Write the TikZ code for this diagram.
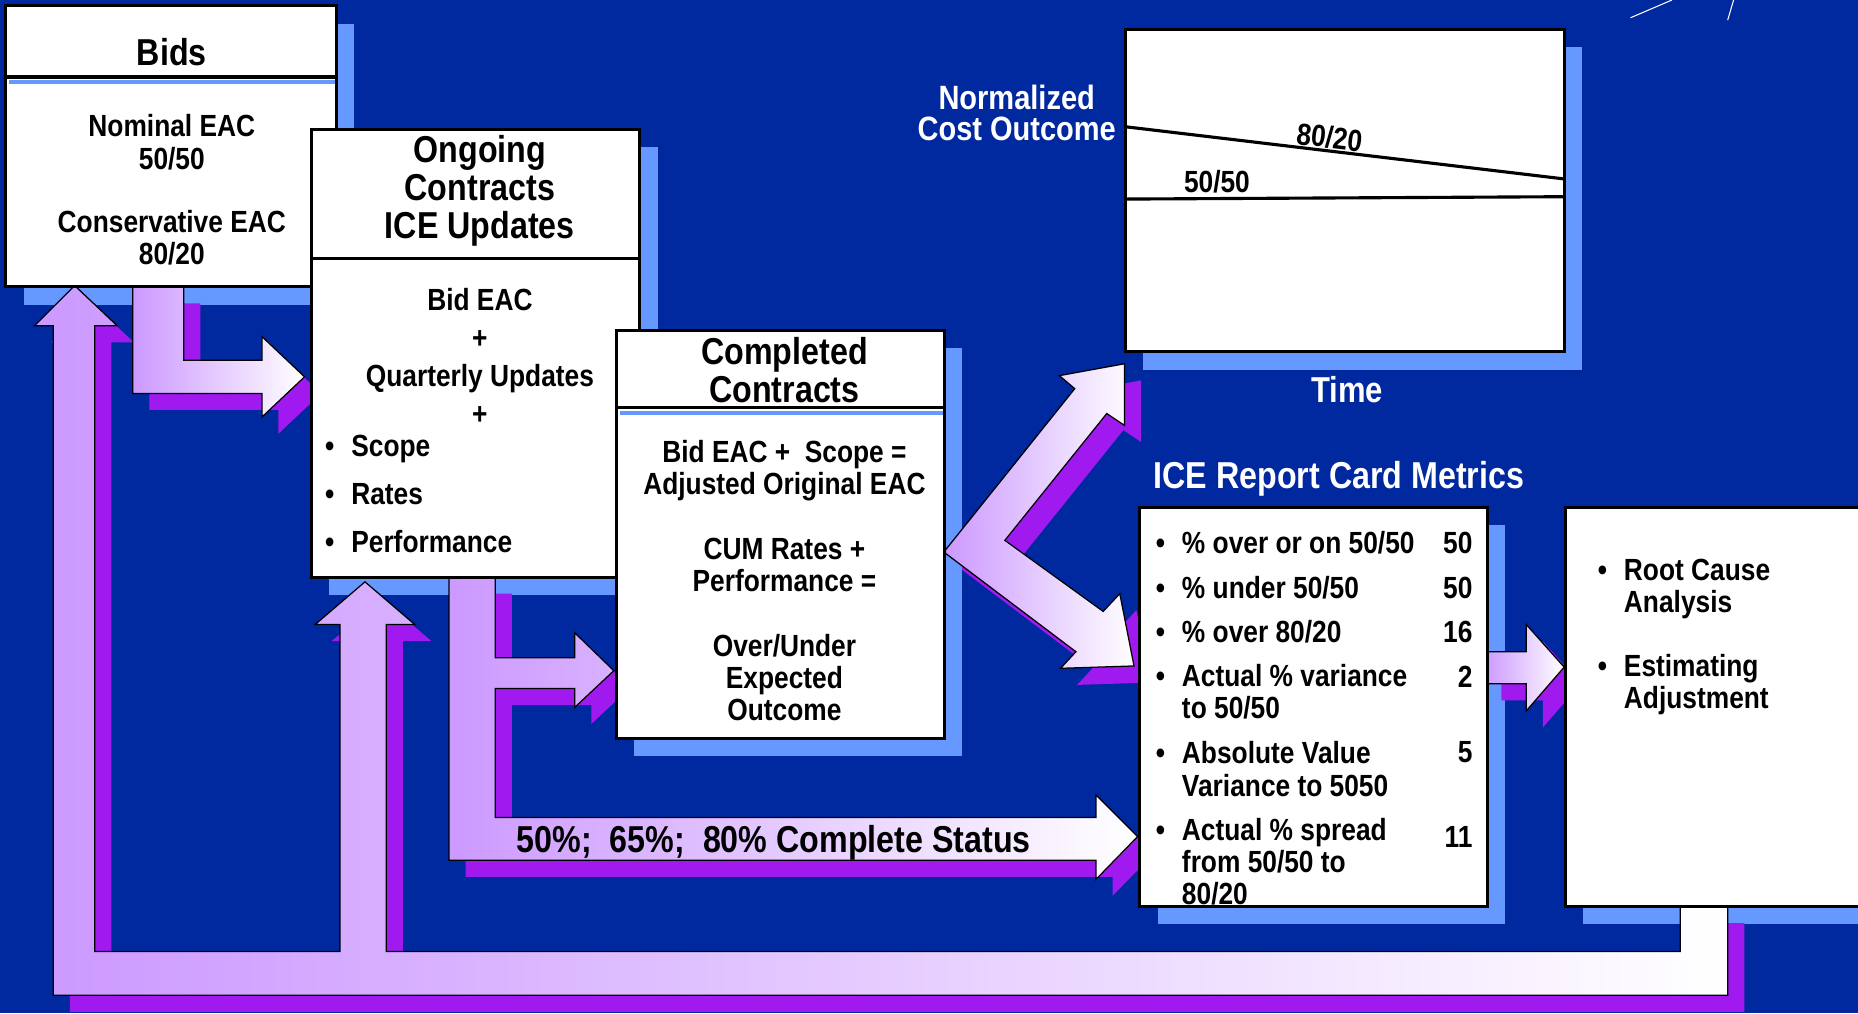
\documentclass[tikz,border=0pt]{standalone}
\usepackage{fontspec}
\setmainfont{Liberation Sans}[FakeStretch=0.86]
\usepackage{tikz}
\usetikzlibrary{positioning}
\definecolor{Navy}{HTML}{00299F}
\definecolor{ShadowBlue}{HTML}{6699FF}
\definecolor{Violet}{HTML}{A01AF0}
\definecolor{Lilac}{HTML}{CC99FF}
\newcommand{\bodysize}{\fontsize{14.7}{15.4}\selectfont\bfseries}
\newcommand{\widesize}{\fontsize{14.7}{18.2}\selectfont\bfseries}
\newcommand{\listsize}{\fontsize{14.7}{23}\selectfont\bfseries}
\newcommand{\titlesize}{\fontsize{18}{18.2}\selectfont\bfseries}
\newcommand{\axissize}{\fontsize{16.2}{14.8}\selectfont\bfseries}
\newcommand{\itemdot}{\makebox[12.6pt][l]{\textbullet}}
\newcommand{\bulgap}{\hspace*{12.6pt}}
% block arrow outlines (pixel grid, y down)
\newcommand{\loopoutline}{(1418,765) -- (1458,765) -- (1458,840) -- (45,840) -- (45,275) -- (29,275) -- (63,241) -- (99,275) -- (80,275) -- (80,803) -- (287,803) -- (287,527) -- (266,527) -- (308,491) -- (350,527) -- (326,527) -- (326,803) -- (1418,803) -- cycle}
\newcommand{\bidsoutline}{(112,242) -- (155,242) -- (155,304) -- (221,304) -- (221,284) -- (257,318) -- (221,352) -- (221,332) -- (112,332) -- cycle}
\newcommand{\statusoutline}{(379,487) -- (418,487) -- (418,555) -- (485,555) -- (485,534) -- (518,566) -- (485,597) -- (485,581) -- (418,581) -- (418,690) -- (925,690) -- (925,671) -- (960,706) -- (925,742) -- (925,726) -- (379,726) -- cycle}
\newcommand{\forkoutline}{(798,464) -- (907,328) -- (894,317) -- (949,307) -- (949,359) -- (934,349) -- (848,456) -- (931,516) -- (945,501) -- (957,562) -- (895,564) -- (908,550) -- (798,467) -- cycle}
\newcommand{\rootoutline}{(1253,550) -- (1288,550) -- (1288,527) -- (1320,563) -- (1288,600) -- (1288,577) -- (1253,577) -- cycle}
\tikzset{
  boxshadow/.style={fill=ShadowBlue},
  panel/.style={draw=black, fill=white, line width=1.5pt},
  blueline/.style={draw=ShadowBlue, line width=2pt},
  arrowshadow/.style={fill=Violet, shift={(14,14)}},
  flowarrow/.style={draw=black, line width=0.6pt, left color=Lilac, right color=white},
  curve/.style={draw=black, line width=1.5pt},
  bodytext/.style={text=black, font=\bodysize, align=center, inner sep=0pt},
  heading/.style={text=black, font=\titlesize, align=center, inner sep=0pt},
  listitem/.style={bodytext, align=left, anchor=west},
  whitetext/.style={text=white, font=\titlesize, align=center, inner sep=0pt},
}

\begin{document}
\begin{tikzpicture}[x=0.02cm, y=-0.02cm]
  \useasboundingbox (0,0) rectangle (1568,855);
  \fill[Navy] (0,0) rectangle (1568,855);

  % Box shadows
  \fill[boxshadow] (20,20) rectangle (299,257);
  \fill[boxshadow] (278,124) rectangle (555,502);
  \fill[boxshadow] (535,294) rectangle (812,638);
  \fill[boxshadow] (965,40) rectangle (1335,312);
  \fill[boxshadow] (977,443) rectangle (1270,780);
  \fill[boxshadow] (1336,443) rectangle (1590,780);

  % Block arrows
  \fill[arrowshadow] \loopoutline;
  \draw[flowarrow] \loopoutline;
  \fill[arrowshadow] \bidsoutline;
  \draw[flowarrow] \bidsoutline;
  \fill[arrowshadow] \statusoutline;
  \draw[flowarrow] \statusoutline;
  \fill[arrowshadow] \forkoutline;
  \draw[flowarrow] \forkoutline;
  \fill[arrowshadow] \rootoutline;
  \draw[flowarrow] \rootoutline;

  % Bids
  \draw[panel] (5,5) rectangle (284,242);
  \draw[panel] (5,5) rectangle (284,65);
  \draw[blueline] (8,69.5) -- (283,69.5);
  \node[heading] (bidsTitle) at (145,44) {Bids};
  \node[bodytext] (bidsNominal) at (145,120) {Nominal EAC\\50/50};
  \node[bodytext] (bidsConservative) at (145,201) {Conservative EAC\\80/20};

  % Ongoing contracts
  \draw[panel] (263,109) rectangle (540,487);
  \draw[panel] (263,109) rectangle (540,218);
  \node[heading] (ongoingTitle) at (405,161) {Ongoing\\Contracts\\ICE Updates};
  \node[bodytext, font=\widesize] (ongoingBody) at (405,301) {Bid EAC\\+\\Quarterly Updates\\+};
  \node[listitem, font=\listsize] (ongoingList) at (274,417) {\itemdot Scope\\\itemdot Rates\\\itemdot Performance};

  % Completed contracts
  \draw[panel] (520,279) rectangle (797,623);
  \draw[panel] (520,279) rectangle (797,344);
  \draw[blueline] (523,348.5) -- (796,348.5);
  \node[heading] (completedTitle) at (662,312) {Completed\\Contracts};
  \node[bodytext] (completedBid) at (662,397) {Bid EAC +\ \ Scope =\\Adjusted Original EAC};
  \node[bodytext] (completedCum) at (662,477) {CUM Rates +\\Performance =};
  \node[bodytext] (completedOutcome) at (662,572) {Over/Under\\Expected\\Outcome};

  % Cost outcome chart
  \draw[panel] (950,25) rectangle (1320,297);
  \draw[curve] (950,107) -- (1320,151);
  \draw[curve] (950,168) -- (1320,166);
  \node[bodytext, rotate=-6.8] (lineHigh) at (1122,116) {80/20};
  \node[bodytext] (lineLow) at (1027,153) {50/50};
  \node[whitetext, font=\axissize] (chartAxisY) at (858,95) {Normalized\\Cost Outcome};
  \node[whitetext, font=\fontsize{17.3}{18}\selectfont\bfseries] (chartAxisX) at (1137,329) {Time};
  \draw[white, line width=0.5pt] (1376,15) -- (1411,0);
  \draw[white, line width=0.5pt] (1458,17) -- (1463,0);

  % Report card metrics
  \node[whitetext] (metricsHeading) at (1130,404) {ICE Report Card Metrics};
  \draw[panel] (962,428) rectangle (1255,765);
  \node[listitem] (metricOne) at (975,458) {\itemdot \% over or on 50/50};
  \node[listitem] (metricTwo) at (975,496) {\itemdot \% under 50/50};
  \node[listitem] (metricThree) at (975,533) {\itemdot \% over 80/20};
  \node[listitem] (metricFour) at (975,584) {\itemdot Actual \% variance\\\bulgap to 50/50};
  \node[listitem] (metricFive) at (975,649) {\itemdot Absolute Value\\\bulgap Variance to 5050};
  \node[listitem] (metricSix) at (975,727) {\itemdot Actual \% spread\\\bulgap from 50/50 to\\\bulgap 80/20};
  \node[bodytext, anchor=east] (valueOne) at (1243,458) {50};
  \node[bodytext, anchor=east] (valueTwo) at (1243,496) {50};
  \node[bodytext, anchor=east] (valueThree) at (1243,533) {16};
  \node[bodytext, anchor=east] (valueFour) at (1243,571) {2};
  \node[bodytext, anchor=east] (valueFive) at (1243,635) {5};
  \node[bodytext, anchor=east] (valueSix) at (1243,706) {11};

  % Follow-up actions
  \draw[panel] (1321,428) rectangle (1580,765);
  \node[listitem] (rootCause) at (1348,497) {\itemdot Root Cause\\\bulgap Analysis};
  \node[listitem] (rootAdjust) at (1348,578) {\itemdot Estimating\\\bulgap Adjustment};

  \node[heading] (statusText) at (653,711) {50\%;\ \ 65\%;\ \ 80\% Complete Status};
\end{tikzpicture}
\end{document}
